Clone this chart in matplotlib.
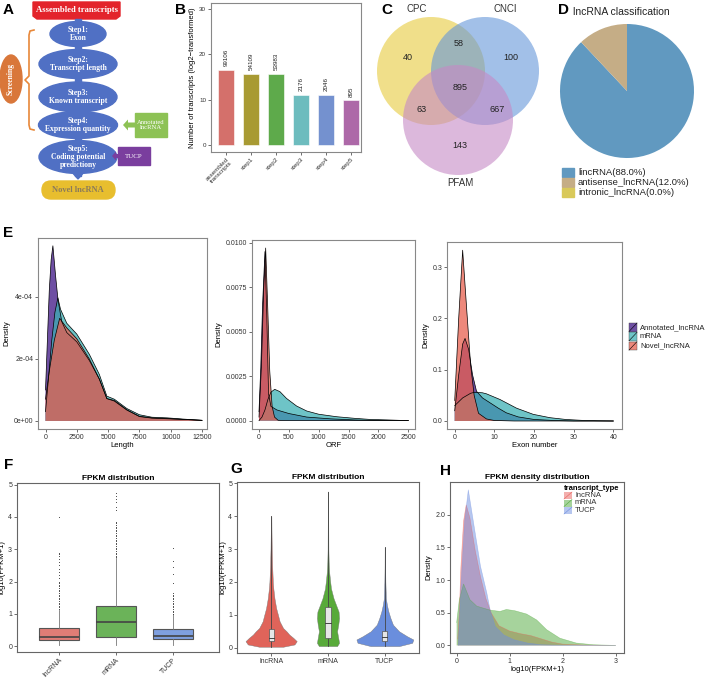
import numpy as np
import matplotlib.pyplot as plt
from matplotlib.patches import Ellipse, Rectangle, Polygon, Circle, FancyBboxPatch, FancyArrow

plt.rcParams['font.family'] = ['Liberation Sans', 'DejaVu Sans']

# ---------------- data ----------------
# B: filtering steps
step_names = ["assembled\ntranscripts", "step1", "step2", "step3", "step4", "step5"]
step_counts = [99106, 54109, 53983, 2176, 2046, 895]
step_colors = ['#D4706B', '#A89A33', '#5EAA4B', '#6DBCBE', '#7491CF', '#AD68A8']

# C: venn counts
venn_sets = ["CPC", "CNCI", "PFAM"]
venn_counts = {"CPC": 40, "CNCI": 100, "PFAM": 143, "CPC_CNCI": 58,
               "CPC_PFAM": 63, "CNCI_PFAM": 667, "all": 895}

# D: lncRNA classification
class_labels = ["lincRNA(88.0%)", "antisense_lncRNA(12.0%)", "intronic_lncRNA(0.0%)"]
class_values = [88.0, 12.0, 0.0]
class_colors = ['#6199C0', '#C5AD86', '#D9C95A']

# E: density curves
len_annot_x = [0, 150, 300, 450, 590, 800, 1000, 1300, 1700, 2500, 3500, 4300, 4900, 5500, 6500, 7500, 8500, 9700, 11000, 12500]
len_annot_y = [1.0e-4, 2.6e-4, 4.2e-4, 5.2e-4, 5.65e-4, 4.7e-4, 3.9e-4, 3.2e-4, 2.85e-4, 2.55e-4, 1.95e-4, 1.35e-4, 0.72e-4, 0.64e-4, 0.35e-4, 0.14e-4, 0.09e-4, 0.07e-4, 0.05e-4, 0.02e-4]
len_mrna_x = [0, 200, 500, 750, 990, 1200, 1700, 2500, 3500, 4300, 4900, 5500, 6500, 7500, 8500, 9700, 11000, 12500]
len_mrna_y = [0.3e-4, 1.2e-4, 2.6e-4, 3.5e-4, 3.97e-4, 3.6e-4, 3.15e-4, 2.8e-4, 2.15e-4, 1.5e-4, 0.8e-4, 0.7e-4, 0.4e-4, 0.2e-4, 0.12e-4, 0.1e-4, 0.06e-4, 0.02e-4]
len_novel_x = [0, 300, 700, 1130, 1700, 2500, 3500, 4300, 4900, 5500, 6500, 7500, 8500, 9700, 11000, 12500]
len_novel_y = [0.7e-4, 1.6e-4, 2.6e-4, 3.31e-4, 3.0e-4, 2.65e-4, 2.0e-4, 1.35e-4, 0.72e-4, 0.66e-4, 0.36e-4, 0.15e-4, 0.1e-4, 0.08e-4, 0.05e-4, 0.02e-4]

orf_annot_x = [0, 30, 60, 100, 130, 160, 200, 300, 500, 800, 1200, 1600, 2000, 2500]
orf_annot_y = [0.0005, 0.003, 0.0065, 0.0095, 0.006, 0.0015, 0.0008, 0.0006, 0.0004, 0.0002, 0.0001, 0.00004, 0.00001, 0.0]
orf_mrna_x = [0, 50, 100, 150, 200, 263, 350, 460, 630, 800, 1000, 1300, 1600, 1850, 2150, 2500]
orf_mrna_y = [0.0, 0.0002, 0.0006, 0.0012, 0.0016, 0.00176, 0.00163, 0.00125, 0.00082, 0.00054, 0.00036, 0.00022, 0.00013, 0.00007, 0.00004, 0.0]
orf_novel_x = [0, 40, 80, 112, 145, 180, 220, 260, 320, 500, 1000, 2500]
orf_novel_y = [0.0002, 0.003, 0.0075, 0.0097, 0.0065, 0.0028, 0.0008, 0.0002, 0.00002, 0.0, 0.0, 0.0]

exon_annot_x = [0, 1, 2, 2.6, 3.5, 4.5, 5.5, 7, 9, 11, 13, 16, 20, 25, 30, 40]
exon_annot_y = [0.02, 0.09, 0.15, 0.161, 0.14, 0.09, 0.058, 0.045, 0.035, 0.025, 0.016, 0.008, 0.003, 0.001, 0.0, 0.0]
exon_mrna_x = [0, 2, 4, 5, 7, 8, 11.4, 15.6, 19.8, 24, 28, 32, 36, 40]
exon_mrna_y = [0.03, 0.045, 0.054, 0.056, 0.055, 0.053, 0.042, 0.025, 0.013, 0.0065, 0.003, 0.0013, 0.0005, 0.0]
exon_novel_x = [0, 1, 2, 3, 4, 4.9, 6, 8, 10, 15, 40]
exon_novel_y = [0.04, 0.2, 0.333, 0.22, 0.11, 0.05, 0.015, 0.004, 0.001, 0.0, 0.0]

e_names = ["Annotated_lncRNA", "mRNA", "Novel_lncRNA"]
e_colors = ['#5E3C99', '#3DB0B5', '#E8604F']
e_alpha = [0.9, 0.75, 0.75]

# F/G: FPKM box stats (log10(FPKM+1))
types = ["lncRNA", "mRNA", "TUCP"]
box_q1 = [0.19, 0.29, 0.21]
box_med = [0.30, 0.76, 0.32]
box_q3 = [0.57, 1.24, 0.52]
box_wlo = [0.03, 0.05, 0.05]
box_whi = [1.12, 2.72, 1.0]
box_max = [4.0, 4.75, 3.05]
fliers_lnc = [1.15, 1.2, 1.25, 1.3, 1.35, 1.4, 1.45, 1.5, 1.55, 1.6, 1.65, 1.7, 1.75, 1.8, 1.85, 1.9, 1.95, 2.0,
              2.1, 2.2, 2.3, 2.4, 2.5, 2.6, 2.7, 2.8, 2.85, 2.9, 4.0]
fliers_mrna = [2.75, 2.8, 2.85, 2.9, 2.95, 3.0, 3.05, 3.1, 3.15, 3.2, 3.25, 3.3, 3.35, 3.4, 3.45, 3.5, 3.55,
               3.6, 3.65, 3.7, 3.75, 3.8, 3.85, 4.2, 4.3, 4.45, 4.55, 4.65, 4.75]
fliers_tucp = [1.0, 1.05, 1.1, 1.15, 1.2, 1.25, 1.3, 1.35, 1.4, 1.45, 1.5, 1.55, 1.6, 1.65, 1.95, 2.25, 2.45, 2.65, 3.05]
f_colors = ['#E07D76', '#6BB359', '#7FA0E0']
g_colors = ['#E0645A', '#58AA3A', '#6A8EDD']

# G: violin half-widths (category units)
vio_lnc_y = [0.03, 0.1, 0.2, 0.3, 0.4, 0.5, 0.6, 0.8, 1.0, 1.2, 1.5, 1.8, 2.0, 2.5, 3.0, 3.5, 4.0]
vio_lnc_w = [0.21, 0.41, 0.45, 0.39, 0.32, 0.27, 0.21, 0.15, 0.12, 0.089, 0.059, 0.039, 0.030, 0.018, 0.011, 0.007, 0.004]
vio_mrna_y = [0.05, 0.15, 0.3, 0.5, 0.7, 0.9, 1.1, 1.3, 1.5, 1.8, 2.0, 2.3, 2.6, 3.0, 4.0, 4.75]
vio_mrna_w = [0.16, 0.195, 0.18, 0.16, 0.18, 0.195, 0.186, 0.142, 0.098, 0.053, 0.039, 0.021, 0.012, 0.007, 0.0045, 0.0035]
vio_tucp_y = [0.05, 0.15, 0.25, 0.35, 0.5, 0.7, 0.9, 1.1, 1.3, 1.5, 2.0, 2.5, 3.05]
vio_tucp_w = [0.25, 0.48, 0.5, 0.39, 0.25, 0.142, 0.098, 0.062, 0.036, 0.018, 0.009, 0.005, 0.0035]

# H: FPKM densities
h_lnc_x = [0.02, 0.05, 0.08, 0.13, 0.18, 0.25, 0.35, 0.45, 0.55, 0.65, 0.8, 1.0, 1.2, 1.4, 1.6, 1.8, 2.0, 2.4, 3.0]
h_lnc_y = [0.1, 0.5, 1.2, 1.9, 2.15, 1.95, 1.45, 1.05, 0.72, 0.5, 0.3, 0.22, 0.18, 0.15, 0.1, 0.05, 0.02, 0.005, 0.0]
h_mrna_x = [0.0, 0.05, 0.13, 0.25, 0.38, 0.63, 0.82, 0.94, 1.1, 1.32, 1.51, 1.7, 1.95, 2.26, 2.58, 3.0]
h_mrna_y = [0.35, 0.7, 0.94, 0.7, 0.6, 0.54, 0.52, 0.55, 0.53, 0.48, 0.39, 0.24, 0.11, 0.036, 0.01, 0.0]
h_tucp_x = [0.03, 0.08, 0.15, 0.22, 0.32, 0.45, 0.57, 0.63, 0.73, 0.89, 1.08, 1.34, 1.6, 2.0, 3.0]
h_tucp_y = [0.0, 0.9, 1.9, 2.38, 1.87, 1.21, 0.8, 0.55, 0.29, 0.16, 0.087, 0.036, 0.01, 0.002, 0.0]
h_colors = ['#E8605C', '#4FA83A', '#6F8FE0']

# ---------------- figure ----------------
W, H = 708, 688
fig = plt.figure(figsize=(7.08, 6.88), dpi=100)


def px_axes(l, t, r, b):
    return fig.add_axes([l / W, 1 - b / H, (r - l) / W, (b - t) / H])


def style(ax, spine='#888888'):
    for s in ax.spines.values():
        s.set_color(spine)
        s.set_linewidth(0.8)
    ax.tick_params(length=2, width=0.5, colors='#333333', labelsize=5, pad=1.5)


# overlay in pixel coordinates for flowchart, venn, letters, legends (kept on top)
ax0 = fig.add_axes([0, 0, 1, 1])
ax0.set_xlim(0, W)
ax0.set_ylim(H, 0)
ax0.axis('off')
ax0.set_zorder(10)

for lab, x, y in [("A", 3, 3), ("B", 175, 3), ("C", 381, 3), ("D", 558, 3), ("E", 3, 226),
                  ("F", 4, 458), ("G", 230, 462), ("H", 440, 464)]:
    ax0.text(x, y, lab, fontsize=11, fontweight='bold', va='top', ha='left')

# ---- A: flowchart ----
serif = 'Liberation Serif'
blue = '#5070C4'
ax0.add_patch(Polygon([(33, 2), (120, 2), (120, 16), (116, 19), (37, 19), (33, 16)], color='#E3242B'))
ax0.text(77, 10, "Assembled transcripts", color='white', fontsize=6.2, fontweight='bold',
         family=serif, ha='center', va='center')
ax0.add_patch(Rectangle((75, 19), 6, 157, color=blue))
ax0.add_patch(Polygon([(71, 171), (85, 171), (78, 179)], color=blue))
steps = [("Step1:\nExon", 34, 56, 25), ("Step2:\nTranscript length", 64, 78, 29),
         ("Step3:\nKnown transcript", 97, 78, 30), ("Step4:\nExpression quantity", 125, 79, 27),
         ("Step5:\nCoding potential\npredictiony", 157, 78, 33)]
for txt, cy, w, h in steps:
    ax0.add_patch(Ellipse((78, cy), w, h, color=blue))
    ax0.text(78, cy, txt, color='white', fontsize=5.5, fontweight='bold', family=serif,
             ha='center', va='center', linespacing=1.0)
ax0.add_patch(FancyBboxPatch((42, 181), 73, 18, boxstyle="round,pad=0,rounding_size=9", color='#E8BE2E'))
ax0.text(78, 190, "Novel lncRNA", color='#8A7A5A', fontsize=6, fontweight='bold', family=serif,
         ha='center', va='center')
# brace + screening
ax0.plot([34, 30, 29, 29, 25, 29, 29, 30, 34], [30, 31, 35, 76, 80, 84, 125, 129, 130],
         color='#E8883A', lw=1.2, solid_joinstyle='round')
ax0.add_patch(Ellipse((11, 79), 22, 48, color='#D9773A'))
ax0.text(11, 79, "Screening", color='white', fontsize=5.5, fontweight='bold', family=serif,
         rotation=90, ha='center', va='center')
# annotated lncRNA and TUCP boxes
ax0.add_patch(Rectangle((135, 113), 32, 24, color='#8DC255'))
ax0.text(151, 125, "Annotated\nlncRNA", color='white', fontsize=4.8, family=serif,
         ha='center', va='center', linespacing=1.0)
ax0.add_patch(FancyArrow(136, 125, -13, 0, width=5, head_width=11, head_length=5,
                         length_includes_head=True, color='#8DC255', lw=0))
ax0.add_patch(Rectangle((118, 147), 32, 18, color='#7A3E9E'))
ax0.text(134, 156, "TUCP", color='white', fontsize=5, family=serif, ha='center', va='center')
ax0.add_patch(FancyArrow(119, 156, -7, 0, width=4, head_width=9, head_length=4,
                         length_includes_head=True, color='#7A3E9E', lw=0))

# ---- B: bar chart ----
axb = px_axes(211, 3, 361, 152)
style(axb)
xb = np.arange(1, len(step_counts) + 1)
vals_b = np.log2(step_counts)
axb.bar(xb, vals_b, width=0.63, color=step_colors, edgecolor='white', linewidth=0.4)
for xi, v, n in zip(xb, vals_b, step_counts):
    axb.text(xi, v + 0.8, str(n), rotation=90, ha='center', va='bottom', fontsize=4.5, color='#222222')
axb.set_xlim(0.4, 6.4)
axb.set_ylim(-1.64, 31.4)
axb.set_yticks([0, 10, 20, 30])
axb.set_xticks(xb)
axb.set_xticklabels(step_names, rotation=45, ha='right', rotation_mode='anchor', fontsize=5, linespacing=1.0)
axb.set_ylabel("Number of transcripts (log2\u2212transformed)", fontsize=5.5, labelpad=2)
axb.tick_params(labelsize=4.5)

# ---- C: venn ----
ax0.add_patch(Circle((431, 71), 54, facecolor='#E6CB3C', alpha=0.6, lw=0))
ax0.add_patch(Circle((485, 71), 54, facecolor='#6496D9', alpha=0.6, lw=0))
ax0.add_patch(Circle((458, 120), 55, facecolor='#C689C5', alpha=0.6, lw=0))
venn_pos = {"CPC": (408, 57), "CNCI": (511, 57), "PFAM": (460, 146), "CPC_CNCI": (459, 44),
            "CPC_PFAM": (422, 109), "CNCI_PFAM": (497, 109), "all": (460, 87)}
for k, v in venn_counts.items():
    ax0.text(*venn_pos[k], str(v), fontsize=6.5, ha='center', va='center', color='#222222')
for name, pos in zip(venn_sets, [(417, 9), (505, 9), (460, 183)]):
    ax0.text(*pos, name, fontsize=7, ha='center', va='center', color='#333333')

# ---- D: pie ----
axd = px_axes(560, 24, 694, 158)
axd.pie(class_values, colors=class_colors, startangle=90, counterclock=False,
        wedgeprops=dict(linewidth=0))
axd.set_xlim(-1, 1)
axd.set_ylim(-1, 1)
axd.set_aspect('equal')
ax0.text(573, 12, "lncRNA classification", fontsize=7.5, va='center', ha='left', color='#222222')
for i, (lab, c) in enumerate(zip(class_labels, class_colors)):
    y = 168 + i * 10
    ax0.add_patch(Rectangle((562, y), 12, 9, color=c))
    ax0.text(578, y + 4.5, lab, fontsize=6.8, va='center', ha='left', color='#222222')

# ---- E: densities ----
def dens_panel(box, series, xlim, ylim, xticks, yticks, yticklabels, xlabel):
    ax = px_axes(*box)
    style(ax)
    for (x, y), c, a in zip(series, e_colors, e_alpha):
        ax.fill_between(x, 0, y, facecolor=c, alpha=a, edgecolor='none')
        ax.plot(x, y, color='black', lw=0.5)
    ax.set_xlim(*xlim)
    ax.set_ylim(*ylim)
    ax.set_xticks(xticks)
    ax.set_yticks(yticks)
    ax.set_yticklabels(yticklabels)
    ax.set_xlabel(xlabel, fontsize=5.5, labelpad=0.5)
    ax.set_ylabel("Density", fontsize=5.5, labelpad=2)
    return ax


dens_panel((38, 238, 207, 429),
           [(len_annot_x, len_annot_y), (len_mrna_x, len_mrna_y), (len_novel_x, len_novel_y)],
           (-600, 12900), (-0.26e-4, 5.9e-4), [0, 2500, 5000, 7500, 10000, 12500],
           [0, 2e-4, 4e-4], ["0e+00", "2e-04", "4e-04"], "Length")
dens_panel((252, 240, 415, 429),
           [(orf_annot_x, orf_annot_y), (orf_mrna_x, orf_mrna_y), (orf_novel_x, orf_novel_y)],
           (-117, 2612), (-0.00047, 0.01015), [0, 500, 1000, 1500, 2000, 2500],
           [0, 0.0025, 0.005, 0.0075, 0.01], ["0.0000", "0.0025", "0.0050", "0.0075", "0.0100"], "ORF")
dens_panel((447, 242, 622, 429),
           [(exon_annot_x, exon_annot_y), (exon_mrna_x, exon_mrna_y), (exon_novel_x, exon_novel_y)],
           (-1.95, 42.2), (-0.0156, 0.349), [0, 10, 20, 30, 40],
           [0, 0.1, 0.2, 0.3], ["0.0", "0.1", "0.2", "0.3"], "Exon number")
for i, (name, c, a) in enumerate(zip(e_names, e_colors, e_alpha)):
    y = 323 + i * 9.3
    ax0.add_patch(Rectangle((629, y), 8, 8.5, facecolor=c, alpha=a, edgecolor='none'))
    ax0.plot([629, 637], [y + 8.5, y], color='black', lw=0.4)
    ax0.add_patch(Rectangle((629, y), 8, 8.5, facecolor='none', edgecolor='#444444', lw=0.3))
    ax0.text(640, y + 4.3, name, fontsize=5.5, va='center', ha='left', color='#222222')

# ---- F: boxplot ----
axf = px_axes(17, 483, 219, 652)
style(axf, '#666666')
fliers = [fliers_lnc, fliers_mrna, fliers_tucp]
stats = [dict(med=m, q1=a, q3=b, whislo=lo, whishi=hi, fliers=fl)
         for m, a, b, lo, hi, fl in zip(box_med, box_q1, box_q3, box_wlo, box_whi, fliers)]
bp = axf.bxp(stats, positions=[1, 2, 3], widths=0.7, patch_artist=True, showcaps=False,
             boxprops=dict(edgecolor='#555555', linewidth=0.8),
             medianprops=dict(color='#444444', linewidth=1.2),
             whiskerprops=dict(color='#777777', linewidth=0.6),
             flierprops=dict(marker='.', markersize=1.5, markerfacecolor='#333333',
                             markeredgecolor='none'))
for patch, c in zip(bp['boxes'], f_colors):
    patch.set_facecolor(c)
axf.set_xlim(0.27, 3.8)
axf.set_ylim(-0.177, 5.05)
axf.set_yticks([0, 1, 2, 3, 4, 5])
axf.set_xticks([1, 2, 3])
axf.set_xticklabels(types, rotation=45, ha='right', rotation_mode='anchor')
axf.set_ylabel("log10(FPKM+1)", fontsize=5.5)
axf.yaxis.set_label_coords(-0.055, 0.5)
axf.set_title("FPKM distribution", fontsize=6, fontweight='bold', pad=2)

# ---- G: violin ----
axg = px_axes(237, 482, 419, 653)
style(axg, '#666666')
vios = [(vio_lnc_y, vio_lnc_w), (vio_mrna_y, vio_mrna_w), (vio_tucp_y, vio_tucp_w)]
for i, ((vy, vw), c) in enumerate(zip(vios, g_colors)):
    pos = i + 1
    vy = np.array(vy)
    vw = np.array(vw)
    axg.fill_betweenx(vy, pos - vw, pos + vw, facecolor=c, edgecolor='#777777', linewidth=0.3)
    axg.plot([pos, pos], [box_wlo[i], box_max[i]], color='#444444', lw=0.6)
    axg.add_patch(Rectangle((pos - 0.045, box_q1[i]), 0.09, box_q3[i] - box_q1[i],
                            facecolor='#E6E6E6', edgecolor='#555555', lw=0.5, zorder=3))
    axg.plot([pos - 0.045, pos + 0.045], [box_med[i], box_med[i]], color='#444444', lw=0.7, zorder=4)
axg.set_xlim(0.4, 3.6)
axg.set_ylim(-0.16, 5.04)
axg.set_yticks([0, 1, 2, 3, 4, 5])
axg.set_xticks([1, 2, 3])
axg.set_xticklabels(types)
axg.set_ylabel("log10(FPKM+1)", fontsize=5.5, labelpad=1)
axg.set_title("FPKM distribution", fontsize=6, fontweight='bold', pad=2)

# ---- H: density ----
axh = px_axes(450, 482, 624, 653)
style(axh, '#666666')
for (x, y), c in zip([(h_lnc_x, h_lnc_y), (h_mrna_x, h_mrna_y), (h_tucp_x, h_tucp_y)], h_colors):
    axh.fill_between(x, 0, y, facecolor=c, alpha=0.5, edgecolor='none')
    axh.plot(x, y, color=c, lw=0.4, alpha=0.5)
axh.set_xlim(-0.126, 3.16)
axh.set_ylim(-0.116, 2.5)
axh.set_xticks([0, 1, 2, 3])
axh.set_yticks([0, 0.5, 1.0, 1.5, 2.0])
axh.set_yticklabels(["0.0", "0.5", "1.0", "1.5", "2.0"])
axh.set_xlabel("log10(FPKM+1)", fontsize=5.5, labelpad=0.5)
axh.set_ylabel("Density", fontsize=5.5, labelpad=2)
axh.set_title("FPKM density distribution", fontsize=6, fontweight='bold', pad=2)
ax0.text(564, 488, "transcript_type", fontsize=5.5, fontweight='bold', va='center', ha='left')
for i, (name, c) in enumerate(zip(types, h_colors)):
    y = 492 + i * 7.5
    ax0.add_patch(Rectangle((564, y), 8, 7, facecolor=c, alpha=0.5, edgecolor='none'))
    ax0.plot([564, 572], [y + 7, y], color=c, lw=0.4)
    ax0.text(575, y + 3.5, name, fontsize=5.5, va='center', ha='left', color='#333333')

fig.savefig("out.png", dpi=100)
